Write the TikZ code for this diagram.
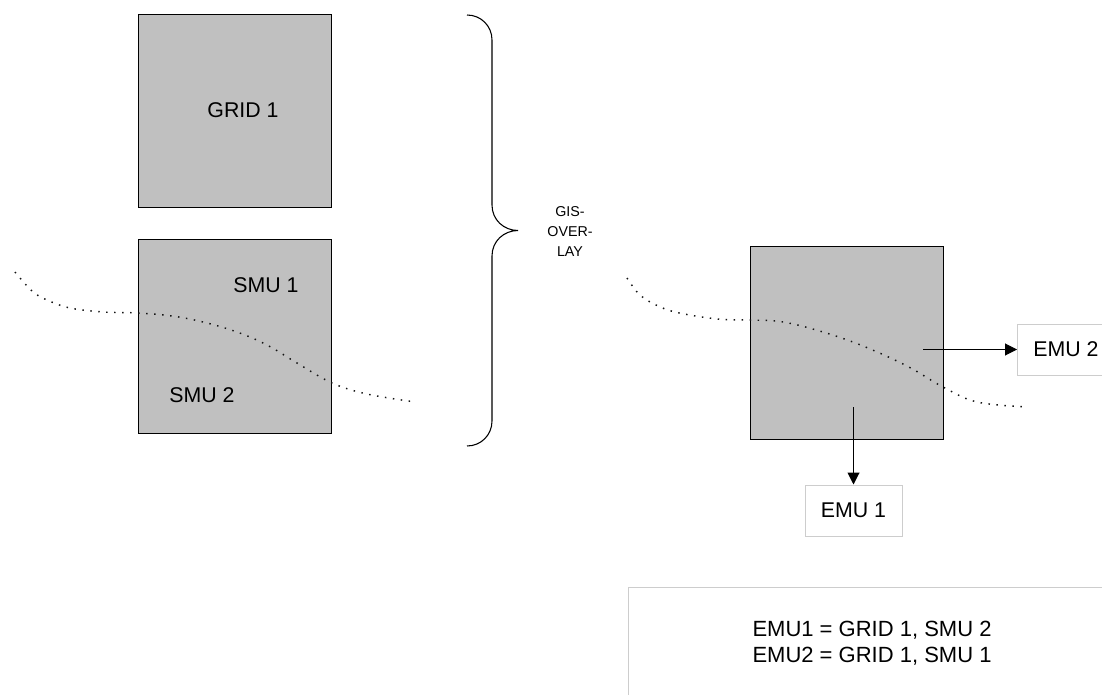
\documentclass[tikz,border=0pt]{standalone}
\usepackage{fontspec}
\setmainfont{Liberation Sans}
\usetikzlibrary{arrows.meta}
\definecolor{boxgray}{RGB}{192,192,192}
\definecolor{lightborder}{RGB}{205,205,205}
\definecolor{dotcol}{RGB}{20,20,20}
\begin{document}
\begin{tikzpicture}[x=0.75pt,y=-0.75pt,
  graybox/.style={draw=black, fill=boxgray, line width=0.75pt, minimum width=144.75pt, minimum height=144.75pt, inner sep=0pt},
  emubox/.style={draw=lightborder, fill=white, line width=0.75pt, minimum width=72.75pt, minimum height=38.25pt, inner sep=0pt, font=\fontsize{16}{19}\selectfont},
  lbl/.style={inner sep=0pt, font=\fontsize{16}{19}\selectfont},
  dotline/.style={line width=1.1pt, dash pattern=on 1.1pt off 4.9pt, line cap=butt, draw=dotcol},
  conn/.style={-{Triangle[length=9pt,width=9pt]}, line width=0.75pt},
  bracestyle/.style={line width=0.8pt}]
\useasboundingbox (0,0) rectangle (1102,695);
\clip (0,0) rectangle (1102,695);
\fill[white] (0,0) rectangle (1102,695);

% left boxes
\node[graybox] (grid1) at (234.5,111.5) {};
\node[lbl] (grid1txt) at (243,110) {GRID 1};
\node[graybox] (smu) at (234.5,336.5) {};
\node[lbl] (smu1txt) at (266,285) {SMU 1};
\node[lbl] (smu2txt) at (202,395) {SMU 2};

% left dotted line
\draw[dotline] plot[smooth, tension=0.6] coordinates {(15,272) (32,291) (47,300) (70,308) (103,312) (138,313) (172,316) (203,322) (237,332) (267,345) (297,363) (332,383) (367,394) (415,402)};

% brace
\draw[bracestyle] (467,15) .. controls (481,15) and (492,26) .. (492,40) -- (492,205)
  .. controls (492,220) and (504,230.5) .. (518,230.5)
  .. controls (504,230.5) and (492,241) .. (492,256) -- (492,421)
  .. controls (492,435) and (481,446) .. (467,446);
\node[inner sep=0pt, align=center, font=\fontsize{10.7}{15}\selectfont] (gis) at (570,232) {GIS-\\OVER-\\LAY};

% right box
\node[graybox, minimum height=144pt] (emu) at (846.5,343) {};
\draw[dotline] plot[smooth, tension=0.6] coordinates {(627,278) (638,293) (652,303) (675,312) (717,319) (750,320) (783,322) (823,332) (863,346) (907,366) (943,387) (977,402) (1027,407)};

\node[emubox] (emu2) at (1066,349.5) {EMU 2};
\node[emubox] (emu1) at (853.5,510.5) {EMU 1};
\coordinate (e2src) at (923,349.5);
\coordinate (e1src) at (853.5,407);
\draw[conn] (e2src) -- (emu2.west);
\draw[conn] (e1src) -- (emu1.north);

% legend box
\node[draw=lightborder, line width=0.75pt, minimum width=366pt, minimum height=84.75pt, inner sep=0pt, align=center, font=\fontsize{16.5}{19.5}\selectfont] (legend) at (872,643.5) {EMU1 = GRID 1, SMU 2\\EMU2 = GRID 1, SMU 1};
\end{tikzpicture}
\end{document}
